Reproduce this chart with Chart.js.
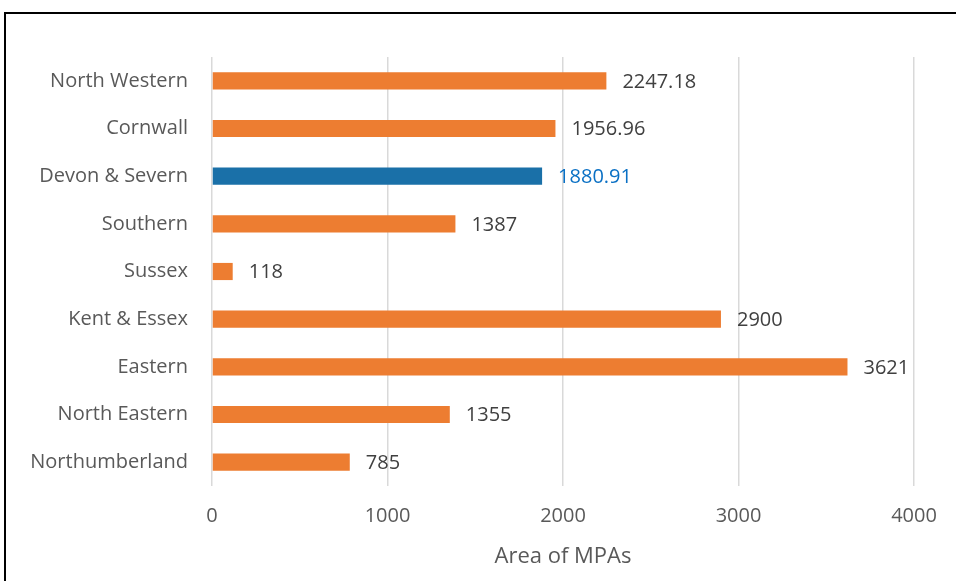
<!DOCTYPE html>
<html>
<head>
<meta charset="utf-8">
<script src="https://cdn.jsdelivr.net/npm/chart.js@4/dist/chart.umd.min.js"></script>
<style>
html,body{margin:0;padding:0;background:#fff;}
canvas{display:block;}
</style>
</head>
<body>
<canvas id="c" width="956" height="581"></canvas>
<script>
const categories = ["North Western","Cornwall","Devon & Severn","Southern","Sussex","Kent & Essex","Eastern","North Eastern","Northumberland"];
const values = [2247.18,1956.96,1880.91,1387,118,2900,3621,1355,785];
const valueLabels = ["2247.18","1956.96","1880.91","1387","118","2900","3621","1355","785"];
const highlightCategory = "Devon & Severn";
const xTicks = [0,1000,2000,3000,4000];
const axisTitle = "Area of MPAs";

const ORANGE = "#ED7D31", BLUE = "#1A70A8", LABEL_BLUE = "#0A70C4";
const FONT = "'Open Sans', Lato, sans-serif";

const framePlugin = {
  id: 'frame',
  beforeDraw(chart){
    const ctx = chart.ctx;
    ctx.save();
    ctx.fillStyle = '#fff';
    ctx.fillRect(0,0,chart.width,chart.height);
    ctx.restore();
  },
  afterDraw(chart){
    const ctx = chart.ctx;
    ctx.save();
    ctx.strokeStyle = '#000';
    ctx.lineWidth = 2;
    ctx.beginPath();
    ctx.moveTo(5, 700);
    ctx.lineTo(5, 13);
    ctx.lineTo(1200, 13);
    ctx.stroke();
    ctx.restore();
  }
};

const labelPlugin = {
  id: 'valueLabels',
  afterDatasetsDraw(chart){
    const ctx = chart.ctx;
    const meta = chart.getDatasetMeta(0);
    ctx.save();
    ctx.font = "20px " + FONT;
    ctx.textBaseline = 'middle';
    ctx.textAlign = 'left';
    meta.data.forEach((bar, i) => {
      ctx.fillStyle = categories[i] === highlightCategory ? LABEL_BLUE : '#404040';
      ctx.fillText(valueLabels[i], bar.x + 16, bar.y + 1);
    });
    ctx.restore();
  }
};

new Chart(document.getElementById('c'), {
  type: 'bar',
  data: {
    labels: categories,
    datasets: [{
      data: values,
      backgroundColor: categories.map(c => c === highlightCategory ? BLUE : ORANGE),
      borderWidth: 0,
      barPercentage: 0.36,
      categoryPercentage: 1.0
    }]
  },
  options: {
    indexAxis: 'y',
    responsive: false,
    animation: false,
    layout: { padding: { left: 0, right: 42, top: 57, bottom: 0 } },
    plugins: { legend: { display: false }, tooltip: { enabled: false } },
    scales: {
      x: {
        min: 0, max: 4000,
        afterBuildTicks(axis){ axis.ticks = xTicks.map(v => ({value: v})); },
        grid: { color: '#D9D9D9', lineWidth: 1.5, drawTicks: false },
        border: { display: false },
        ticks: { color: '#595959', font: { size: 20, family: FONT }, padding: 18, maxRotation: 0,
                 callback: v => String(v) },
        title: { display: true, text: axisTitle, color: '#595959', font: { size: 22, family: FONT }, padding: { top: 2, bottom: 11 } },
        afterFit(axis){ axis.height = 95; }
      },
      y: {
        grid: { display: false, drawTicks: false },
        border: { display: false },
        ticks: { color: '#595959', font: { size: 20, family: FONT }, padding: 24 },
        afterFit(axis){ axis.width = 212; }
      }
    }
  },
  plugins: [framePlugin, labelPlugin]
});
</script>
</body>
</html>
